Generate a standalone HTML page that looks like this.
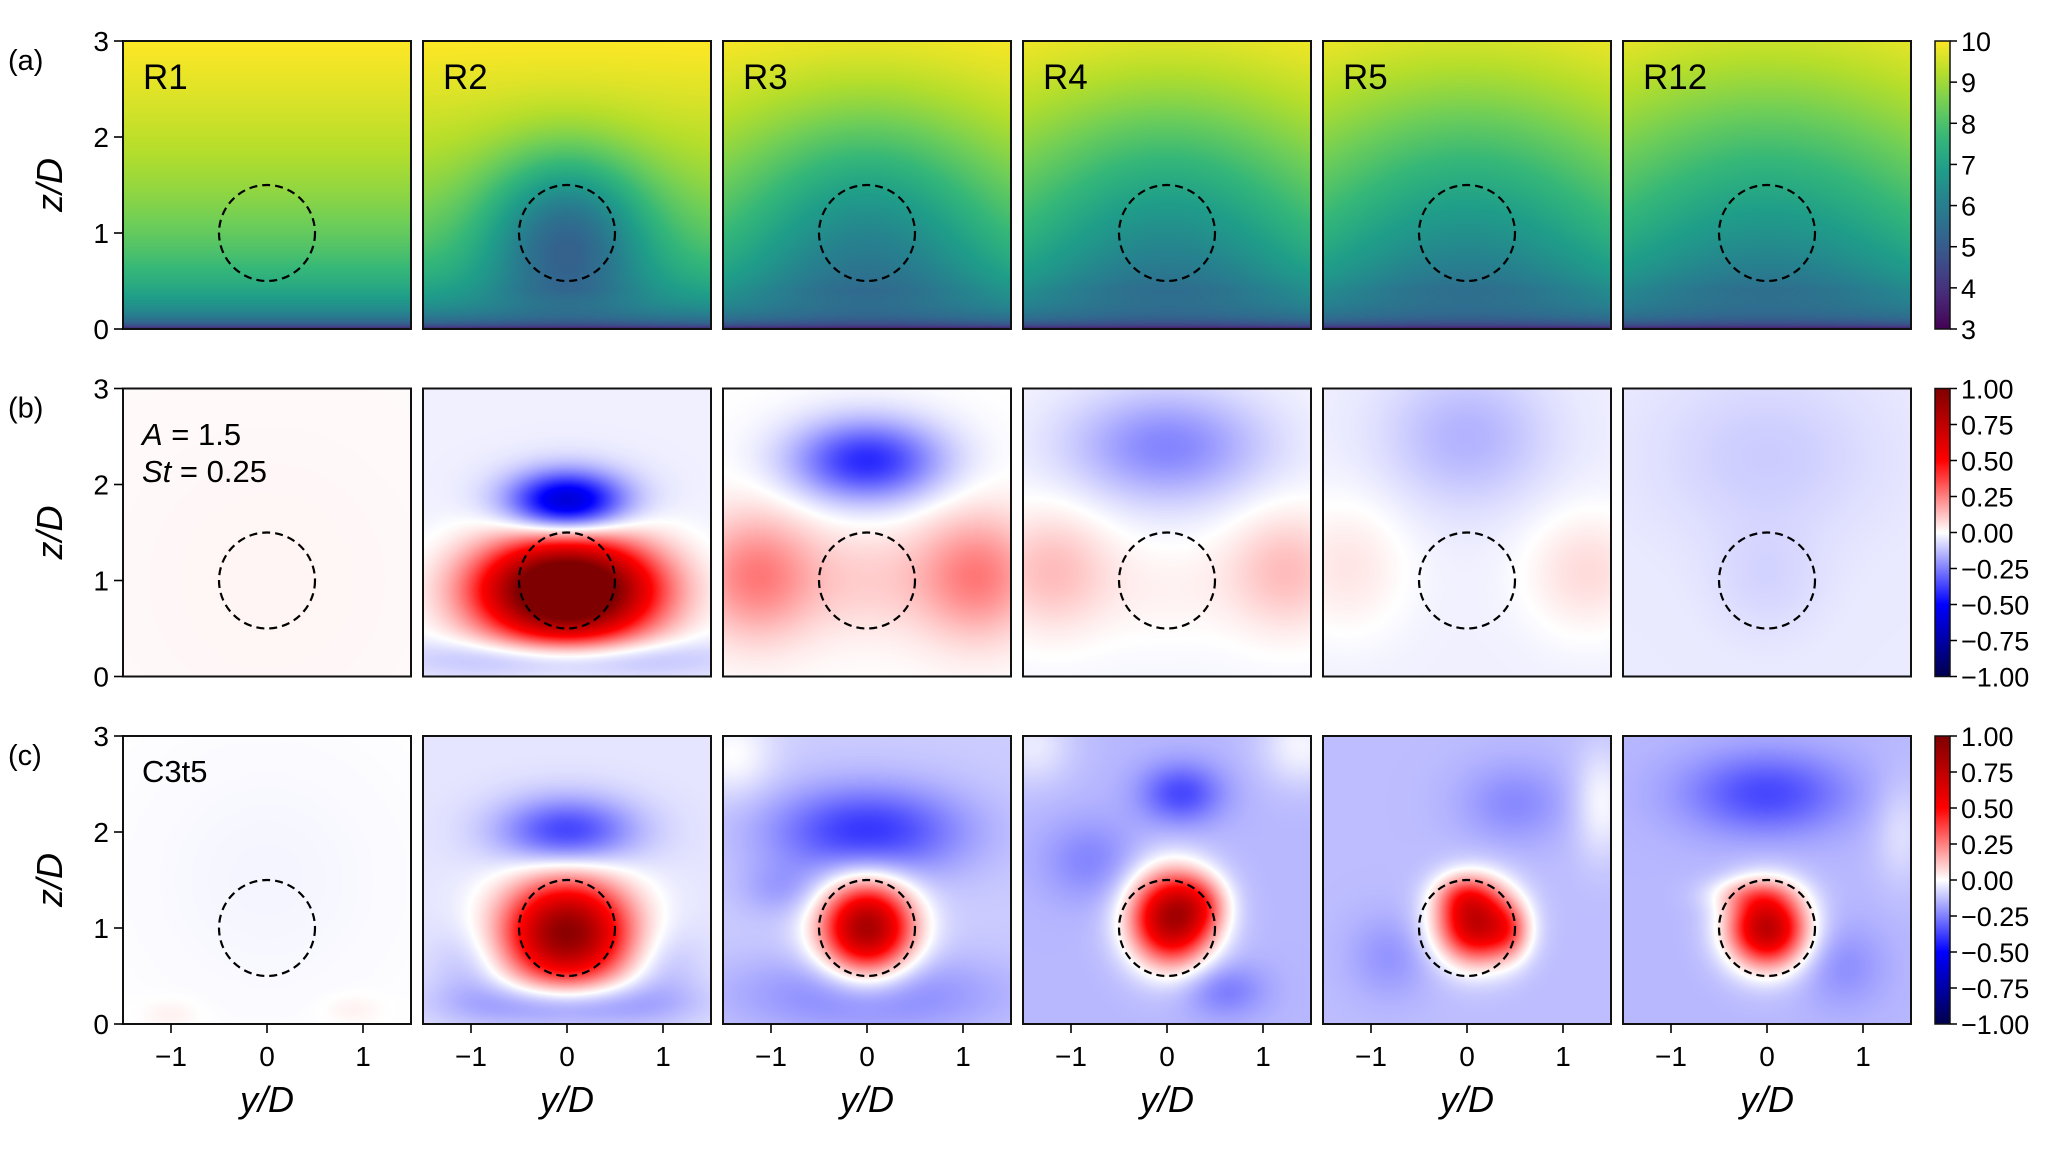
<!DOCTYPE html>
<html><head><meta charset="utf-8">
<style>
html,body{margin:0;padding:0;background:#fff;}
#wrap{position:relative;width:2067px;height:1159px;overflow:hidden;font-family:"Liberation Sans","DejaVu Sans",sans-serif;}
canvas{position:absolute;}
svg{position:absolute;left:0;top:0;}
</style></head>
<body>
<div id="wrap">
<svg id="ov" width="2067" height="1159"></svg>
</div>
<script>
// ---- data ----
const panelNames = ["R1","R2","R3","R4","R5","R12"];
const rowLetters = ["(a)","(b)","(c)"];
const yTicks = [0,1,2,3];
const xTicks = [-1,0,1];
const cbarATicks = [3,4,5,6,7,8,9,10];
const cbarBTicks = [1.00,0.75,0.50,0.25,0.00,-0.25,-0.50,-0.75,-1.00];
// row a: mean velocity, wake deficit amplitude and width per panel
const deficitAmp = [0.0, 3.0, 2.1, 1.9, 1.8, 1.75];
const deficitSigma = [0.5, 0.6, 0.95, 1.1, 1.2, 1.3];
// row b: blobs [amp, y, z, sy, sz]
const rowBBg = [0.01, -0.03, 0.0, -0.02, -0.03, -0.04];
const rowBBlobs = [
  [[0.01,0,1,1,1]],
  [[1.45,0,0.9,0.62,0.36],[-0.62,0,1.82,0.42,0.22],[-0.2,0,0.2,1.0,0.15]],
  [[-0.42,0,2.25,0.55,0.3],[0.26,-1.15,1.05,0.45,0.45],[0.26,1.15,1.05,0.45,0.45],[0.08,0,1.0,0.5,0.4]],
  [[-0.22,0,2.4,0.7,0.4],[0.15,-1.2,1.1,0.45,0.45],[0.15,1.25,1.1,0.45,0.45],[0.04,0,0.9,0.5,0.4]],
  [[-0.12,0,2.5,0.6,0.5],[0.08,-1.25,1.15,0.45,0.5],[0.1,1.25,1.1,0.45,0.45]],
  [[-0.06,0,2.3,0.8,0.6],[-0.04,0,1.0,0.4,0.4]]
];
// row c
const rowCBg = [0.0, -0.05, -0.1, -0.14, -0.13, -0.14];
const rowCBlobs = [
  [[-0.02,0,1.5,1,1],[0.03,-1.0,0.1,0.2,0.1],[0.03,0.9,0.15,0.2,0.1]],
  [[1.0,0,0.95,0.45,0.38],[-0.33,0,2.0,0.5,0.25],[-0.22,0,0.2,0.8,0.18],[-0.08,-1.0,0.6,0.3,0.3],[-0.08,1.0,0.6,0.3,0.3]],
  [[0.95,0,1.0,0.33,0.33],[-0.3,0,2.0,0.7,0.33],[-0.15,0,0.3,1.0,0.3],[-0.08,-0.9,1.4,0.3,0.2],[0.1,-1.4,2.8,0.3,0.3]],
  [[0.95,0.05,1.1,0.3,0.33],[-0.22,0.15,2.4,0.3,0.22],[-0.1,-0.8,1.7,0.35,0.3],[-0.12,0.6,0.35,0.3,0.2],[0.2,0.35,1.25,0.2,0.2],[0.12,1.4,2.9,0.3,0.3],[0.1,-1.4,2.9,0.3,0.3]],
  [[0.85,0.1,1.05,0.28,0.28],[-0.1,0.5,2.3,0.4,0.3],[0.2,-0.05,1.35,0.2,0.15],[0.2,0.45,0.95,0.15,0.2],[-0.08,-0.8,0.7,0.3,0.3],[0.12,1.4,2.3,0.2,0.4]],
  [[0.9,0,1.0,0.28,0.28],[-0.22,0,2.4,0.6,0.3],[0.15,-0.2,1.35,0.3,0.12],[-0.08,0.8,0.6,0.3,0.3],[0.08,1.4,2.0,0.2,0.4]]
];
// ---- layout ----
const PX0=123, PITCH=300, PW=288, ROWY=[41,388.5,736];
const xMin=-1.5,xMax=1.5,zMin=0,zMax=3;
function sx(px,v){return px+(v-xMin)/(xMax-xMin)*PW;}
function sy(py,v){return py+PW-(v-zMin)/(zMax-zMin)*PW;}

const vir=[[68,1,84],[72,40,120],[62,74,137],[49,104,142],[38,130,142],[31,158,137],[53,183,121],[110,206,88],[181,222,43],[253,231,37]];
function viridis(t){t=Math.max(0,Math.min(1,t));const f=t*(vir.length-1);const i=Math.min(vir.length-2,Math.floor(f));const u=f-i;
 return vir[i].map((c,k)=>c+(vir[i+1][k]-c)*u);}
const sei=[[0,0,76],[0,0,255],[255,255,255],[255,0,0],[127,0,0]];
function seismic(v){let t=(Math.max(-1,Math.min(1,v))+1)/2;const f=t*4;const i=Math.min(3,Math.floor(f));const u=f-i;
 return sei[i].map((c,k)=>c+(sei[i+1][k]-c)*u);}

const wrap=document.getElementById('wrap');
const ov=document.getElementById('ov');
const NS="http://www.w3.org/2000/svg";
function mk(tag,attrs,name,parent){const e=document.createElementNS(NS,tag);for(const k in attrs)e.setAttribute(k,attrs[k]);
 
 
 (parent||ov).appendChild(e);return e;}

function blobSum(bg,blobs,y,z){let v=bg;for(const b of blobs){const dy=(y-b[1])/b[3],dz=(z-b[2])/b[4];v+=b[0]*Math.exp(-0.5*(dy*dy+dz*dz));}return v;}

for(let r=0;r<3;r++){
 for(let p=0;p<6;p++){
  const px=PX0+p*PITCH, py=ROWY[r];
  const cv=document.createElement('canvas');cv.width=PW;cv.height=PW;
  cv.style.left=px+'px';cv.style.top=py+'px';
  
  
  wrap.insertBefore(cv,ov);
  const ctx=cv.getContext('2d');const img=ctx.createImageData(PW,PW);
  for(let j=0;j<PW;j++){const z=zMax-(j+0.5)/PW*(zMax-zMin);
   for(let i=0;i<PW;i++){const y=xMin+(i+0.5)/PW*(xMax-xMin);let c;
    if(r===0){let U=10*Math.pow(Math.max(z,0.003)/3,0.17);
      const s=deficitSigma[p];const d=deficitAmp[p]*Math.exp(-0.5*(y*y+(z-1)*(z-1))/(s*s));
      U-=d*Math.min(1,z/0.5+0.2); c=viridis((U-3)/7);}
    else if(r===1){c=seismic(blobSum(rowBBg[p],rowBBlobs[p],y,z));}
    else {c=seismic(blobSum(rowCBg[p],rowCBlobs[p],y,z));}
    const o=(j*PW+i)*4;img.data[o]=c[0];img.data[o+1]=c[1];img.data[o+2]=c[2];img.data[o+3]=255;}}
  ctx.putImageData(img,0,0);
  mk('circle',{cx:sx(px,0),cy:sy(py,1),r:0.5/3*PW,fill:'none',stroke:'#000','stroke-width':2.2,'stroke-dasharray':'8,5'},'rotor-circle');
  mk('rect',{x:px,y:py,width:PW,height:PW,fill:'none',stroke:'#111','stroke-width':2},'panel-frame');
  if(r===0){const t=mk('text',{x:px+20,y:py+48,'font-size':35},'panel-label-'+panelNames[p].toLowerCase());t.textContent=panelNames[p];}
  if(p===0){
   for(const v of yTicks){const yy=sy(py,v);
    mk('line',{x1:px-9,x2:px,y1:yy,y2:yy,stroke:'#000','stroke-width':1.6},'y-tick');
    const t=mk('text',{x:px-14,y:yy+10,'font-size':28,'text-anchor':'end'},'y-tick-label');t.textContent=v;}
   const yl=mk('text',{x:0,y:0,'font-size':36,'font-style':'italic','text-anchor':'middle',transform:`translate(62,${py+PW/2}) rotate(-90)`},'y-axis-title');yl.textContent='z/D';
   const rl=mk('text',{x:8,y:py+29,'font-size':29},'row-label');rl.textContent=rowLetters[r];
  }
  if(r===2){
   for(const v of xTicks){const xx=sx(px,v);
    mk('line',{x1:xx,x2:xx,y1:py+PW,y2:py+PW+9,stroke:'#000','stroke-width':1.6},'x-tick');
    const t=mk('text',{x:xx,y:py+PW+42,'font-size':28,'text-anchor':'middle'},'x-tick-label');t.textContent=(v<0?'\u2212':'')+Math.abs(v);}
   const xl=mk('text',{x:px+PW/2,y:1112,'font-size':36,'font-style':'italic','text-anchor':'middle'},'x-axis-title');xl.textContent='y/D';
  }
 }
}
let t=mk('text',{x:142,y:445,'font-size':31},'amplitude-label');t.innerHTML='<tspan font-style="italic">A</tspan> = 1.5';
t=mk('text',{x:142,y:482,'font-size':31},'strouhal-label');t.innerHTML='<tspan font-style="italic">St</tspan> = 0.25';
t=mk('text',{x:142,y:782,'font-size':31},'case-label');t.textContent='C3t5';

const defs=mk('defs',{},'defs');
function grad(id,fn,n){const g=mk('linearGradient',{id:id,x1:0,y1:1,x2:0,y2:0},'gradient',defs);
 for(let k=0;k<=n;k++){const c=fn(k/n);mk('stop',{offset:k/n,'stop-color':`rgb(${c.map(Math.round).join(',')})`},'grad-stop',g);}}
grad('gv',viridis,20);grad('gs',t=>seismic(t*2-1),40);
const CBX=1935,CBW=15;
for(let r=0;r<3;r++){const py=ROWY[r];
 mk('rect',{x:CBX,y:py,width:CBW,height:PW,fill:r===0?'url(#gv)':'url(#gs)',stroke:'#111','stroke-width':1.5},'colorbar-'+['a','b','c'][r]);
 const ticks=r===0?cbarATicks:cbarBTicks;const lo=r===0?3:-1,hi=r===0?10:1;
 for(const v of ticks){const yy=py+PW-(v-lo)/(hi-lo)*PW;
  mk('line',{x1:CBX+CBW,x2:CBX+CBW+7,y1:yy,y2:yy,stroke:'#000','stroke-width':1.5},'colorbar-tick');
  const tt=mk('text',{x:CBX+CBW+11,y:yy+10,'font-size':27},'colorbar-tick-label');
  tt.textContent=r===0?String(v):(v<0?'\u2212':'')+Math.abs(v).toFixed(2);}
}
</script>
</body></html>
